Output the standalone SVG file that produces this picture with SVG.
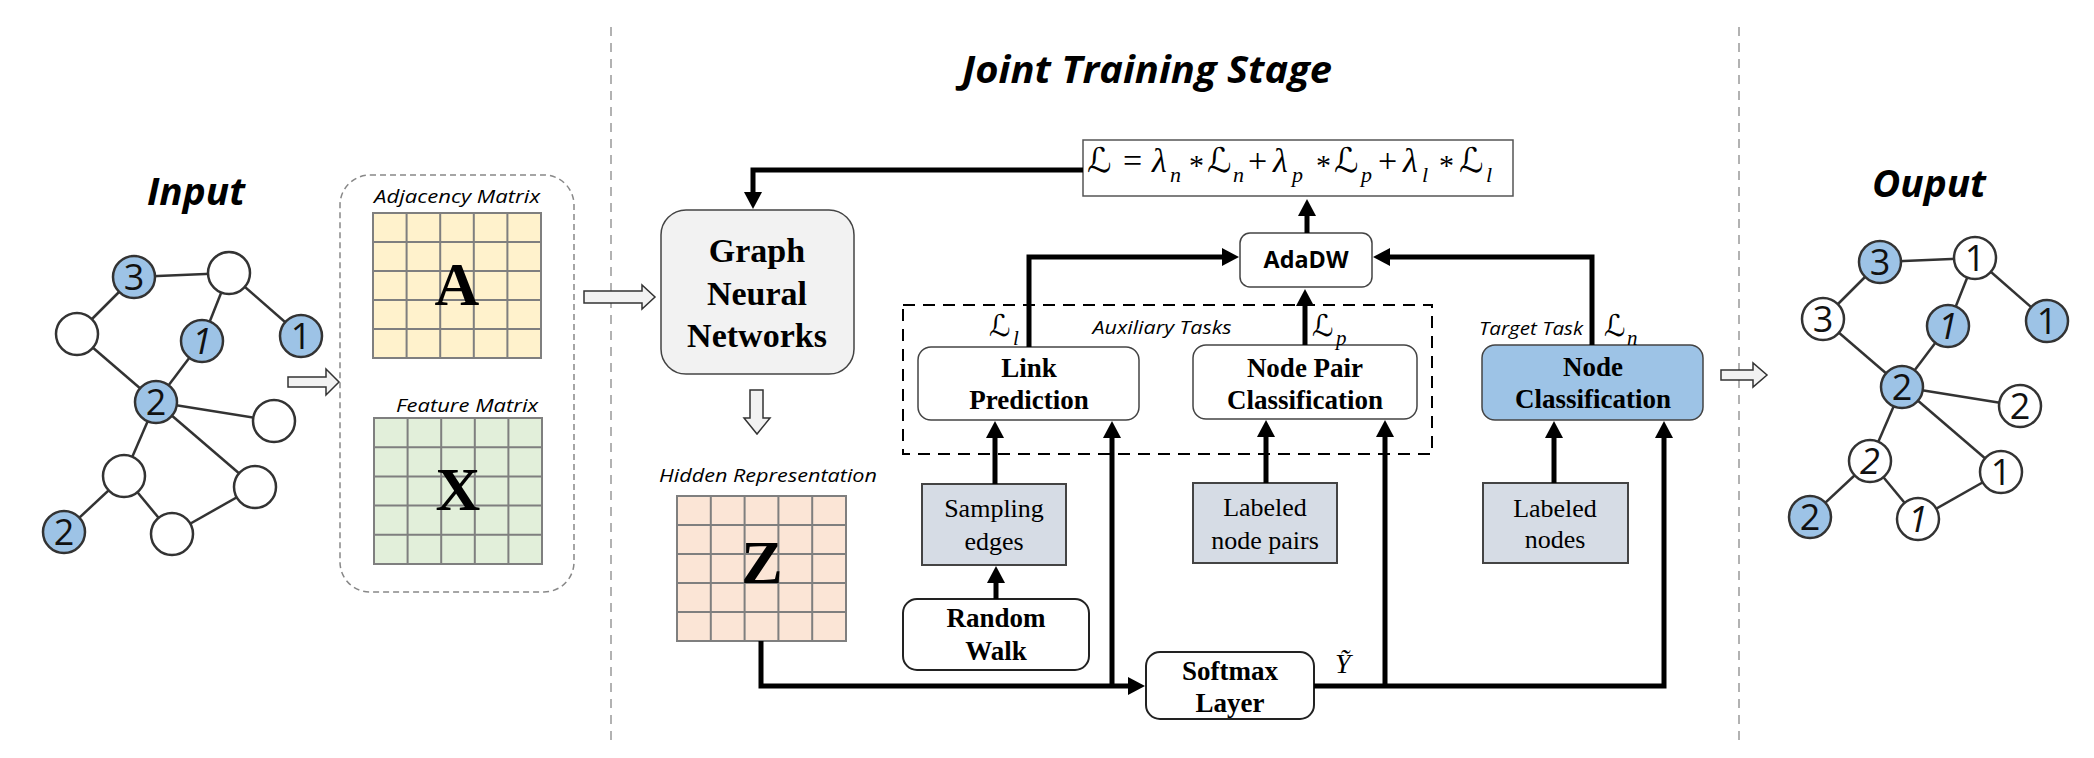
<svg xmlns="http://www.w3.org/2000/svg" width="2094" height="758" viewBox="0 0 2094 758">
<defs>
<style>
.title{font-family:"Open Sans","Noto Sans",sans-serif;font-weight:bold;font-style:italic;font-size:38px;fill:#000;text-anchor:middle}
.ital{font-family:"Open Sans","Noto Sans",sans-serif;font-style:italic;font-size:19px;fill:#000}
.bs{font-family:"Liberation Serif","Times New Roman",serif;font-weight:bold;font-size:27px;fill:#000;text-anchor:middle}
.bsl{font-family:"Liberation Serif","Times New Roman",serif;font-weight:bold;font-size:34px;fill:#000;text-anchor:middle}
.rs{font-family:"Liberation Serif","Times New Roman",serif;font-size:26px;fill:#000;text-anchor:middle}
.big{font-family:"Liberation Serif","Times New Roman",serif;font-weight:bold;font-size:62px;fill:#000;text-anchor:middle}
.num{font-family:"Open Sans","Noto Sans",sans-serif;font-size:36px;fill:#111;text-anchor:middle}
.m{font-family:"Liberation Serif","Times New Roman",serif;font-style:italic;fill:#000}
.cal{font-family:"DejaVu Sans",sans-serif;fill:#000}
.op{font-family:"Liberation Serif","Times New Roman",serif;fill:#000}
.edge{stroke:#333;stroke-width:2.5;fill:none}
.nw{fill:#fff;stroke:#333;stroke-width:2.5}
.nb{fill:#9dc3e6;stroke:#333;stroke-width:2.5}
.grid{stroke:#7f7f7f;stroke-width:2;fill:none}
.conn{stroke:#000;stroke-width:5;fill:none;marker-end:url(#ah)}
.hollow{fill:#f2f2f2;stroke:#333;stroke-width:1.5}
.box{fill:#fff;stroke:#444;stroke-width:1.5}
.sq{fill:#d6dce5;stroke:#444;stroke-width:2}
</style>
<marker id="ah" markerUnits="userSpaceOnUse" markerWidth="20" markerHeight="20" refX="1" refY="9" orient="auto">
<path d="M0,0 L17,9 L0,18 z" fill="#000"/>
</marker>
</defs>
<rect width="2094" height="758" fill="#fff"/>

<!-- separators -->
<line x1="611" y1="27" x2="611" y2="745" stroke="#999" stroke-width="1.5" stroke-dasharray="9 7"/>
<line x1="1739" y1="27" x2="1739" y2="745" stroke="#999" stroke-width="1.5" stroke-dasharray="9 7"/>

<!-- titles -->
<text class="title" x="196" y="205" textLength="98" lengthAdjust="spacingAndGlyphs">Input</text>
<text class="title" x="1147" y="83" textLength="370" lengthAdjust="spacingAndGlyphs">Joint Training Stage</text>
<text class="title" x="1929" y="197" textLength="114" lengthAdjust="spacingAndGlyphs">Ouput</text>

<!-- input graph -->
<g id="input-graph">
<g class="edge">
<line x1="134" y1="277" x2="229" y2="273"/>
<line x1="134" y1="277" x2="77" y2="334"/>
<line x1="229" y1="273" x2="202" y2="341"/>
<line x1="229" y1="273" x2="301" y2="336"/>
<line x1="77" y1="334" x2="156" y2="402"/>
<line x1="202" y1="341" x2="156" y2="402"/>
<line x1="156" y1="402" x2="274" y2="421"/>
<line x1="156" y1="402" x2="124" y2="476"/>
<line x1="156" y1="402" x2="255" y2="487"/>
<line x1="124" y1="476" x2="64" y2="532"/>
<line x1="124" y1="476" x2="172" y2="534"/>
<line x1="172" y1="534" x2="255" y2="487"/>
</g>
<g id="in-n1"><circle class="nb" cx="134" cy="277" r="21"/><text class="num" x="134" y="290">3</text></g>
<g id="in-n2"><circle class="nw" cx="229" cy="273" r="21"/></g>
<g id="in-n3"><circle class="nw" cx="77" cy="334" r="21"/></g>
<g id="in-n4"><circle class="nb" cx="202" cy="341" r="21"/><text class="num" x="202" y="354" font-style="italic">1</text></g>
<g id="in-n5"><circle class="nb" cx="301" cy="336" r="21"/><text class="num" x="301" y="349">1</text></g>
<g id="in-n6"><circle class="nb" cx="156" cy="402" r="21"/><text class="num" x="156" y="415">2</text></g>
<g id="in-n7"><circle class="nw" cx="274" cy="421" r="21"/></g>
<g id="in-n8"><circle class="nw" cx="124" cy="476" r="21"/></g>
<g id="in-n9"><circle class="nw" cx="255" cy="487" r="21"/></g>
<g id="in-n10"><circle class="nb" cx="64" cy="532" r="21"/><text class="num" x="64" y="545">2</text></g>
<g id="in-n11"><circle class="nw" cx="172" cy="534" r="21"/></g>
</g>

<!-- output graph -->
<g id="output-graph" transform="translate(1746,-15)">
<g class="edge">
<line x1="134" y1="277" x2="229" y2="273"/>
<line x1="134" y1="277" x2="77" y2="334"/>
<line x1="229" y1="273" x2="202" y2="341"/>
<line x1="229" y1="273" x2="301" y2="336"/>
<line x1="77" y1="334" x2="156" y2="402"/>
<line x1="202" y1="341" x2="156" y2="402"/>
<line x1="156" y1="402" x2="274" y2="421"/>
<line x1="156" y1="402" x2="124" y2="476"/>
<line x1="156" y1="402" x2="255" y2="487"/>
<line x1="124" y1="476" x2="64" y2="532"/>
<line x1="124" y1="476" x2="172" y2="534"/>
<line x1="172" y1="534" x2="255" y2="487"/>
</g>
<g id="out-n1"><circle class="nb" cx="134" cy="277" r="21"/><text class="num" x="134" y="290">3</text></g>
<g id="out-n2"><circle class="nw" cx="229" cy="273" r="21"/><text class="num" x="229" y="286">1</text></g>
<g id="out-n3"><circle class="nw" cx="77" cy="334" r="21"/><text class="num" x="77" y="347">3</text></g>
<g id="out-n4"><circle class="nb" cx="202" cy="341" r="21"/><text class="num" x="202" y="354" font-style="italic">1</text></g>
<g id="out-n5"><circle class="nb" cx="301" cy="336" r="21"/><text class="num" x="301" y="349">1</text></g>
<g id="out-n6"><circle class="nb" cx="156" cy="402" r="21"/><text class="num" x="156" y="415">2</text></g>
<g id="out-n7"><circle class="nw" cx="274" cy="421" r="21"/><text class="num" x="274" y="434">2</text></g>
<g id="out-n8"><circle class="nw" cx="124" cy="476" r="21"/><text class="num" x="124" y="489" font-style="italic">2</text></g>
<g id="out-n9"><circle class="nw" cx="255" cy="487" r="21"/><text class="num" x="255" y="500">1</text></g>
<g id="out-n10"><circle class="nb" cx="64" cy="532" r="21"/><text class="num" x="64" y="545">2</text></g>
<g id="out-n11"><circle class="nw" cx="172" cy="534" r="21"/><text class="num" x="172" y="547" font-style="italic">1</text></g>
</g>

<!-- input matrices -->
<g id="input-box">
<rect x="340" y="175" width="234" height="417" rx="30" fill="none" stroke="#888" stroke-width="1.5" stroke-dasharray="6 4"/>
</g>
<g id="adjacency-matrix">
<text class="ital" x="457" y="203" text-anchor="middle" textLength="166" lengthAdjust="spacingAndGlyphs">Adjacency Matrix</text>
<rect x="373" y="213" width="168" height="145" fill="#fff2cc"/>
<path class="grid" d="M373,213h168v145h-168z M406.6,213v145 M440.2,213v145 M473.8,213v145 M507.4,213v145 M373,242h168 M373,271h168 M373,300h168 M373,329h168"/>
<text class="big" x="457" y="305">A</text>
</g>
<g id="feature-matrix">
<text class="ital" x="467" y="412" text-anchor="middle" textLength="142" lengthAdjust="spacingAndGlyphs">Feature Matrix</text>
<rect x="374" y="418" width="168" height="146" fill="#e2efda"/>
<path class="grid" d="M374,418h168v146h-168z M407.6,418v146 M441.2,418v146 M474.8,418v146 M508.4,418v146 M374,447.2h168 M374,476.4h168 M374,505.6h168 M374,534.8h168"/>
<text class="big" x="458" y="510">X</text>
</g>

<!-- GNN -->
<g id="gnn">
<rect x="661" y="210" width="193" height="164" rx="25" fill="#f2f2f2" stroke="#444" stroke-width="1.5"/>
<text class="bsl" x="757" y="262">Graph</text>
<text class="bsl" x="757" y="305">Neural</text>
<text class="bsl" x="757" y="347">Networks</text>
</g>

<!-- hidden representation -->
<g id="hidden-matrix">
<text class="ital" x="768" y="482" text-anchor="middle" textLength="218" lengthAdjust="spacingAndGlyphs">Hidden Representation</text>
<rect x="677" y="496" width="169" height="145" fill="#fbe5d6"/>
<path class="grid" d="M677,496h169v145h-169z M710.8,496v145 M744.6,496v145 M778.4,496v145 M812.2,496v145 M677,525h169 M677,554h169 M677,583h169 M677,612h169"/>
<text class="big" x="762" y="583">Z</text>
</g>

<!-- loss formula -->
<g id="loss">
<rect x="1083" y="140" width="430" height="56" fill="#fff" stroke="#555" stroke-width="1.5"/>
<text font-size="34">
<tspan class="cal" x="1087" y="172">ℒ</tspan>
<tspan class="op" x="1123" y="172">=</tspan>
<tspan class="m" x="1152" y="172">λ</tspan><tspan class="m" x="1170" y="182" font-size="22">n</tspan>
<tspan class="op" x="1189" y="175" font-size="30">*</tspan>
<tspan class="cal" x="1207" y="172">ℒ</tspan><tspan class="m" x="1233" y="182" font-size="22">n</tspan>
<tspan class="op" x="1248" y="172">+</tspan>
<tspan class="m" x="1273" y="172">λ</tspan><tspan class="m" x="1292" y="182" font-size="22">p</tspan>
<tspan class="op" x="1316" y="175" font-size="30">*</tspan>
<tspan class="cal" x="1334" y="172">ℒ</tspan><tspan class="m" x="1361" y="182" font-size="22">p</tspan>
<tspan class="op" x="1378" y="172">+</tspan>
<tspan class="m" x="1403" y="172">λ</tspan><tspan class="m" x="1422" y="182" font-size="22">l</tspan>
<tspan class="op" x="1439" y="175" font-size="30">*</tspan>
<tspan class="cal" x="1459" y="172">ℒ</tspan><tspan class="m" x="1486" y="182" font-size="22">l</tspan>
</text>
</g>

<!-- AdaDW -->
<g id="adadw">
<rect class="box" x="1240" y="233" width="132" height="54" rx="10"/>
<text x="1306" y="268" font-family="Open Sans, Noto Sans, sans-serif" font-weight="bold" font-size="23" text-anchor="middle" textLength="85" lengthAdjust="spacingAndGlyphs">AdaDW</text>
</g>

<!-- auxiliary tasks -->
<g id="aux-tasks">
<rect x="903" y="305" width="529" height="149" fill="none" stroke="#000" stroke-width="2" stroke-dasharray="12 8"/>
<text class="ital" x="1162" y="334" text-anchor="middle" textLength="139" lengthAdjust="spacingAndGlyphs">Auxiliary Tasks</text>
</g>

<g id="link-prediction">
<rect class="box" x="918" y="347" width="221" height="73" rx="13"/>
<text class="bs" x="1029" y="377">Link</text>
<text class="bs" x="1029" y="409">Prediction</text>
</g>
<g id="node-pair">
<rect class="box" x="1193" y="345" width="224" height="74" rx="13"/>
<text class="bs" x="1305" y="377">Node Pair</text>
<text class="bs" x="1305" y="409">Classification</text>
</g>
<g id="node-class">
<text class="ital" x="1531" y="335" text-anchor="middle" textLength="104" lengthAdjust="spacingAndGlyphs">Target Task</text>
<rect x="1482" y="345" width="221" height="75" rx="13" fill="#9dc3e6" stroke="#444" stroke-width="1.5"/>
<text class="bs" x="1593" y="376">Node</text>
<text class="bs" x="1593" y="408">Classification</text>
</g>

<g id="sampling-edges">
<rect class="sq" x="922" y="484" width="144" height="81"/>
<text class="rs" x="994" y="517">Sampling</text>
<text class="rs" x="994" y="550">edges</text>
</g>
<g id="labeled-pairs">
<rect class="sq" x="1193" y="483" width="144" height="80"/>
<text class="rs" x="1265" y="516">Labeled</text>
<text class="rs" x="1265" y="549">node pairs</text>
</g>
<g id="labeled-nodes">
<rect class="sq" x="1483" y="483" width="145" height="80"/>
<text class="rs" x="1555" y="517">Labeled</text>
<text class="rs" x="1555" y="548">nodes</text>
</g>
<g id="random-walk">
<rect x="903" y="599" width="186" height="71" rx="14" fill="#fff" stroke="#222" stroke-width="2"/>
<text class="bs" x="996" y="627">Random</text>
<text class="bs" x="996" y="660">Walk</text>
</g>
<g id="softmax">
<rect x="1146" y="652" width="168" height="67" rx="14" fill="#fff" stroke="#222" stroke-width="2"/>
<text class="bs" x="1230" y="680">Softmax</text>
<text class="bs" x="1230" y="712">Layer</text>
</g>

<!-- connectors -->
<g id="connectors">
<path class="hollow" d="M288,377 H326 V369 L339,382 L326,395 V387 H288 Z"/>
<path class="hollow" d="M584,291 H642 V285 L655,297 L642,309 V303 H584 Z"/>
<path class="hollow" d="M750,390 V418 H744 L757,434 L770,418 H763 V390 Z"/>
<path class="hollow" d="M1721,370 H1753 V363 L1767,375 L1753,387 V380 H1721 Z"/>

<path class="conn" d="M1083,170 H753 V193"/>
<path class="conn" d="M1029,347 V257 H1223"/>
<path class="conn" d="M1305,345 V305"/>
<path class="conn" d="M1592,345 V257 H1389"/>
<path class="conn" d="M1307,233 V215"/>
<path class="conn" d="M761,641 V686 H1129"/>
<path class="conn" d="M1112,688 V437"/>
<path class="conn" d="M995,484 V437"/>
<path class="conn" d="M996,599 V582"/>
<path class="conn" d="M1314,686 H1664 V437"/>
<path class="conn" d="M1385,688 V436"/>
<path class="conn" d="M1266,483 V436"/>
<path class="conn" d="M1554,483 V437"/>

<text font-size="30"><tspan class="cal" x="989" y="336">ℒ</tspan><tspan class="m" x="1013" y="345" font-size="21">l</tspan></text>
<text font-size="30"><tspan class="cal" x="1312" y="336">ℒ</tspan><tspan class="m" x="1336" y="345" font-size="21">p</tspan></text>
<text font-size="30"><tspan class="cal" x="1604" y="336">ℒ</tspan><tspan class="m" x="1627" y="345" font-size="21">n</tspan></text>
<text class="m" x="1335" y="673" font-size="28">Ỹ</text>
</g>
</svg>
